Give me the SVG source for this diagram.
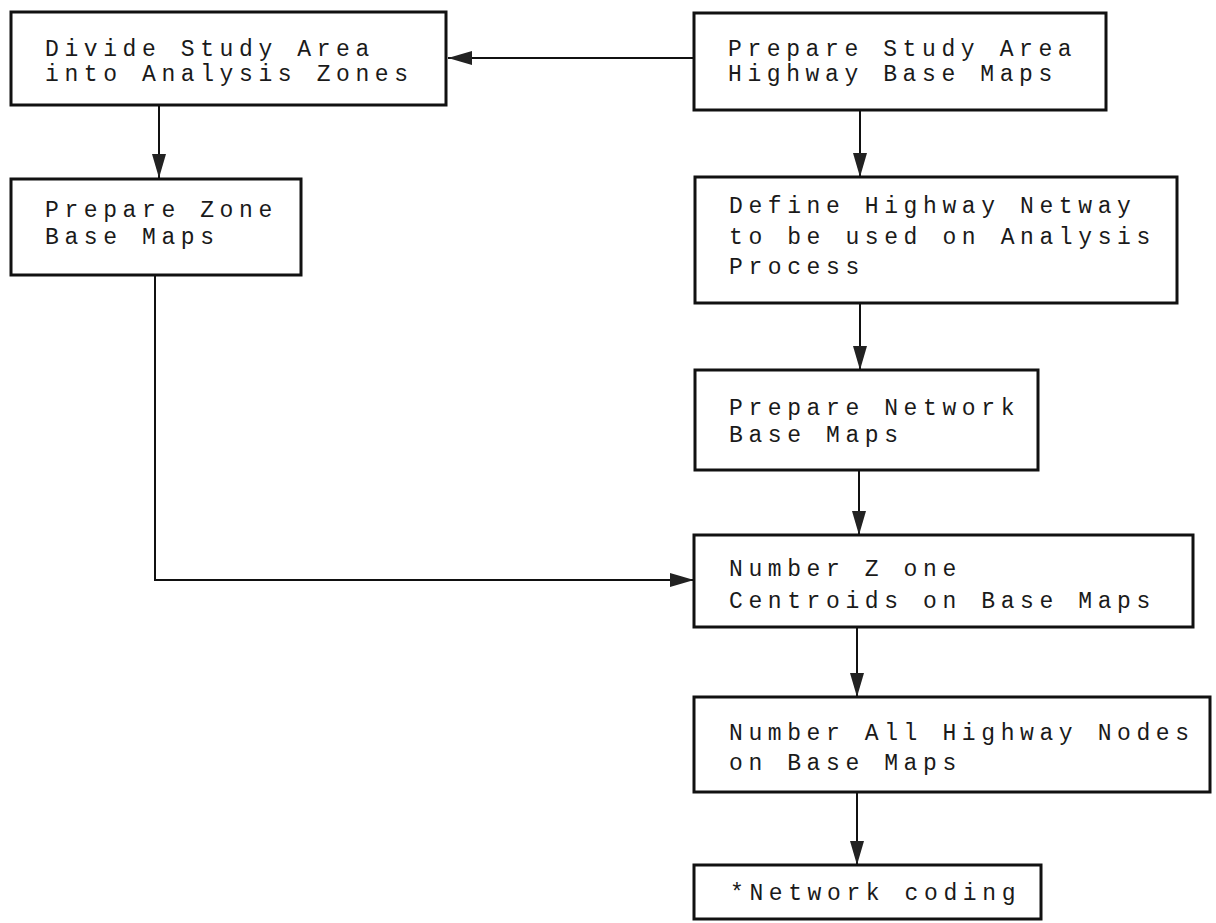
<svg xmlns="http://www.w3.org/2000/svg" width="1216" height="923" viewBox="0 0 1216 923">
<style>
.box{fill:#fff;stroke:#111;stroke-width:3}
.t{font-family:"Liberation Mono","Courier New",monospace;font-size:23px;letter-spacing:5.6px;fill:#1a1a1a}
.c{fill:none;stroke:#111;stroke-width:2}
</style>
<defs>
<marker id="ah" markerUnits="userSpaceOnUse" markerWidth="26" markerHeight="14" refX="24" refY="7" orient="auto">
<path d="M0,0 L24,7 L0,14 z" fill="#222"/>
</marker>
</defs>
<rect width="1216" height="923" fill="#fff"/>
<g id="connectors">
<path class="c" d="M694,58 H448" marker-end="url(#ah)"/>
<path class="c" d="M159,105 V178" marker-end="url(#ah)"/>
<path class="c" d="M860,110 V177" marker-end="url(#ah)"/>
<path class="c" d="M860,303 V370" marker-end="url(#ah)"/>
<path class="c" d="M859,470 V535" marker-end="url(#ah)"/>
<path class="c" d="M155,275 V580 H694" marker-end="url(#ah)"/>
<path class="c" d="M857,627 V697" marker-end="url(#ah)"/>
<path class="c" d="M857,792 V865" marker-end="url(#ah)"/>
</g>
<g id="n1">
<rect class="box" x="11" y="12" width="435" height="93"/>
<text class="t" x="45" y="56">Divide Study Area</text>
<text class="t" x="45" y="81">into Analysis Zones</text>
</g>
<g id="n2">
<rect class="box" x="694" y="13" width="412" height="97"/>
<text class="t" x="728" y="56">Prepare Study Area</text>
<text class="t" x="728" y="81">Highway Base Maps</text>
</g>
<g id="n3">
<rect class="box" x="11" y="179" width="290" height="96"/>
<text class="t" x="45" y="217">Prepare Zone</text>
<text class="t" x="45" y="244">Base Maps</text>
</g>
<g id="n4">
<rect class="box" x="695" y="177" width="482" height="126"/>
<text class="t" x="729" y="213">Define Highway Netway</text>
<text class="t" x="729" y="244">to be used on Analysis</text>
<text class="t" x="729" y="274">Process</text>
</g>
<g id="n5">
<rect class="box" x="695" y="370" width="343" height="100"/>
<text class="t" x="729" y="415">Prepare Network</text>
<text class="t" x="729" y="442">Base Maps</text>
</g>
<g id="n6">
<rect class="box" x="694" y="535" width="499" height="92"/>
<text class="t" x="729" y="576">Number Z one</text>
<text class="t" x="729" y="608">Centroids on Base Maps</text>
</g>
<g id="n7">
<rect class="box" x="694" y="697" width="516" height="95"/>
<text class="t" x="729" y="740">Number All Highway Nodes</text>
<text class="t" x="729" y="770">on Base Maps</text>
</g>
<g id="n8">
<rect class="box" x="694" y="865" width="347" height="54"/>
<text class="t" x="730" y="900">*Network coding</text>
</g>
</svg>
